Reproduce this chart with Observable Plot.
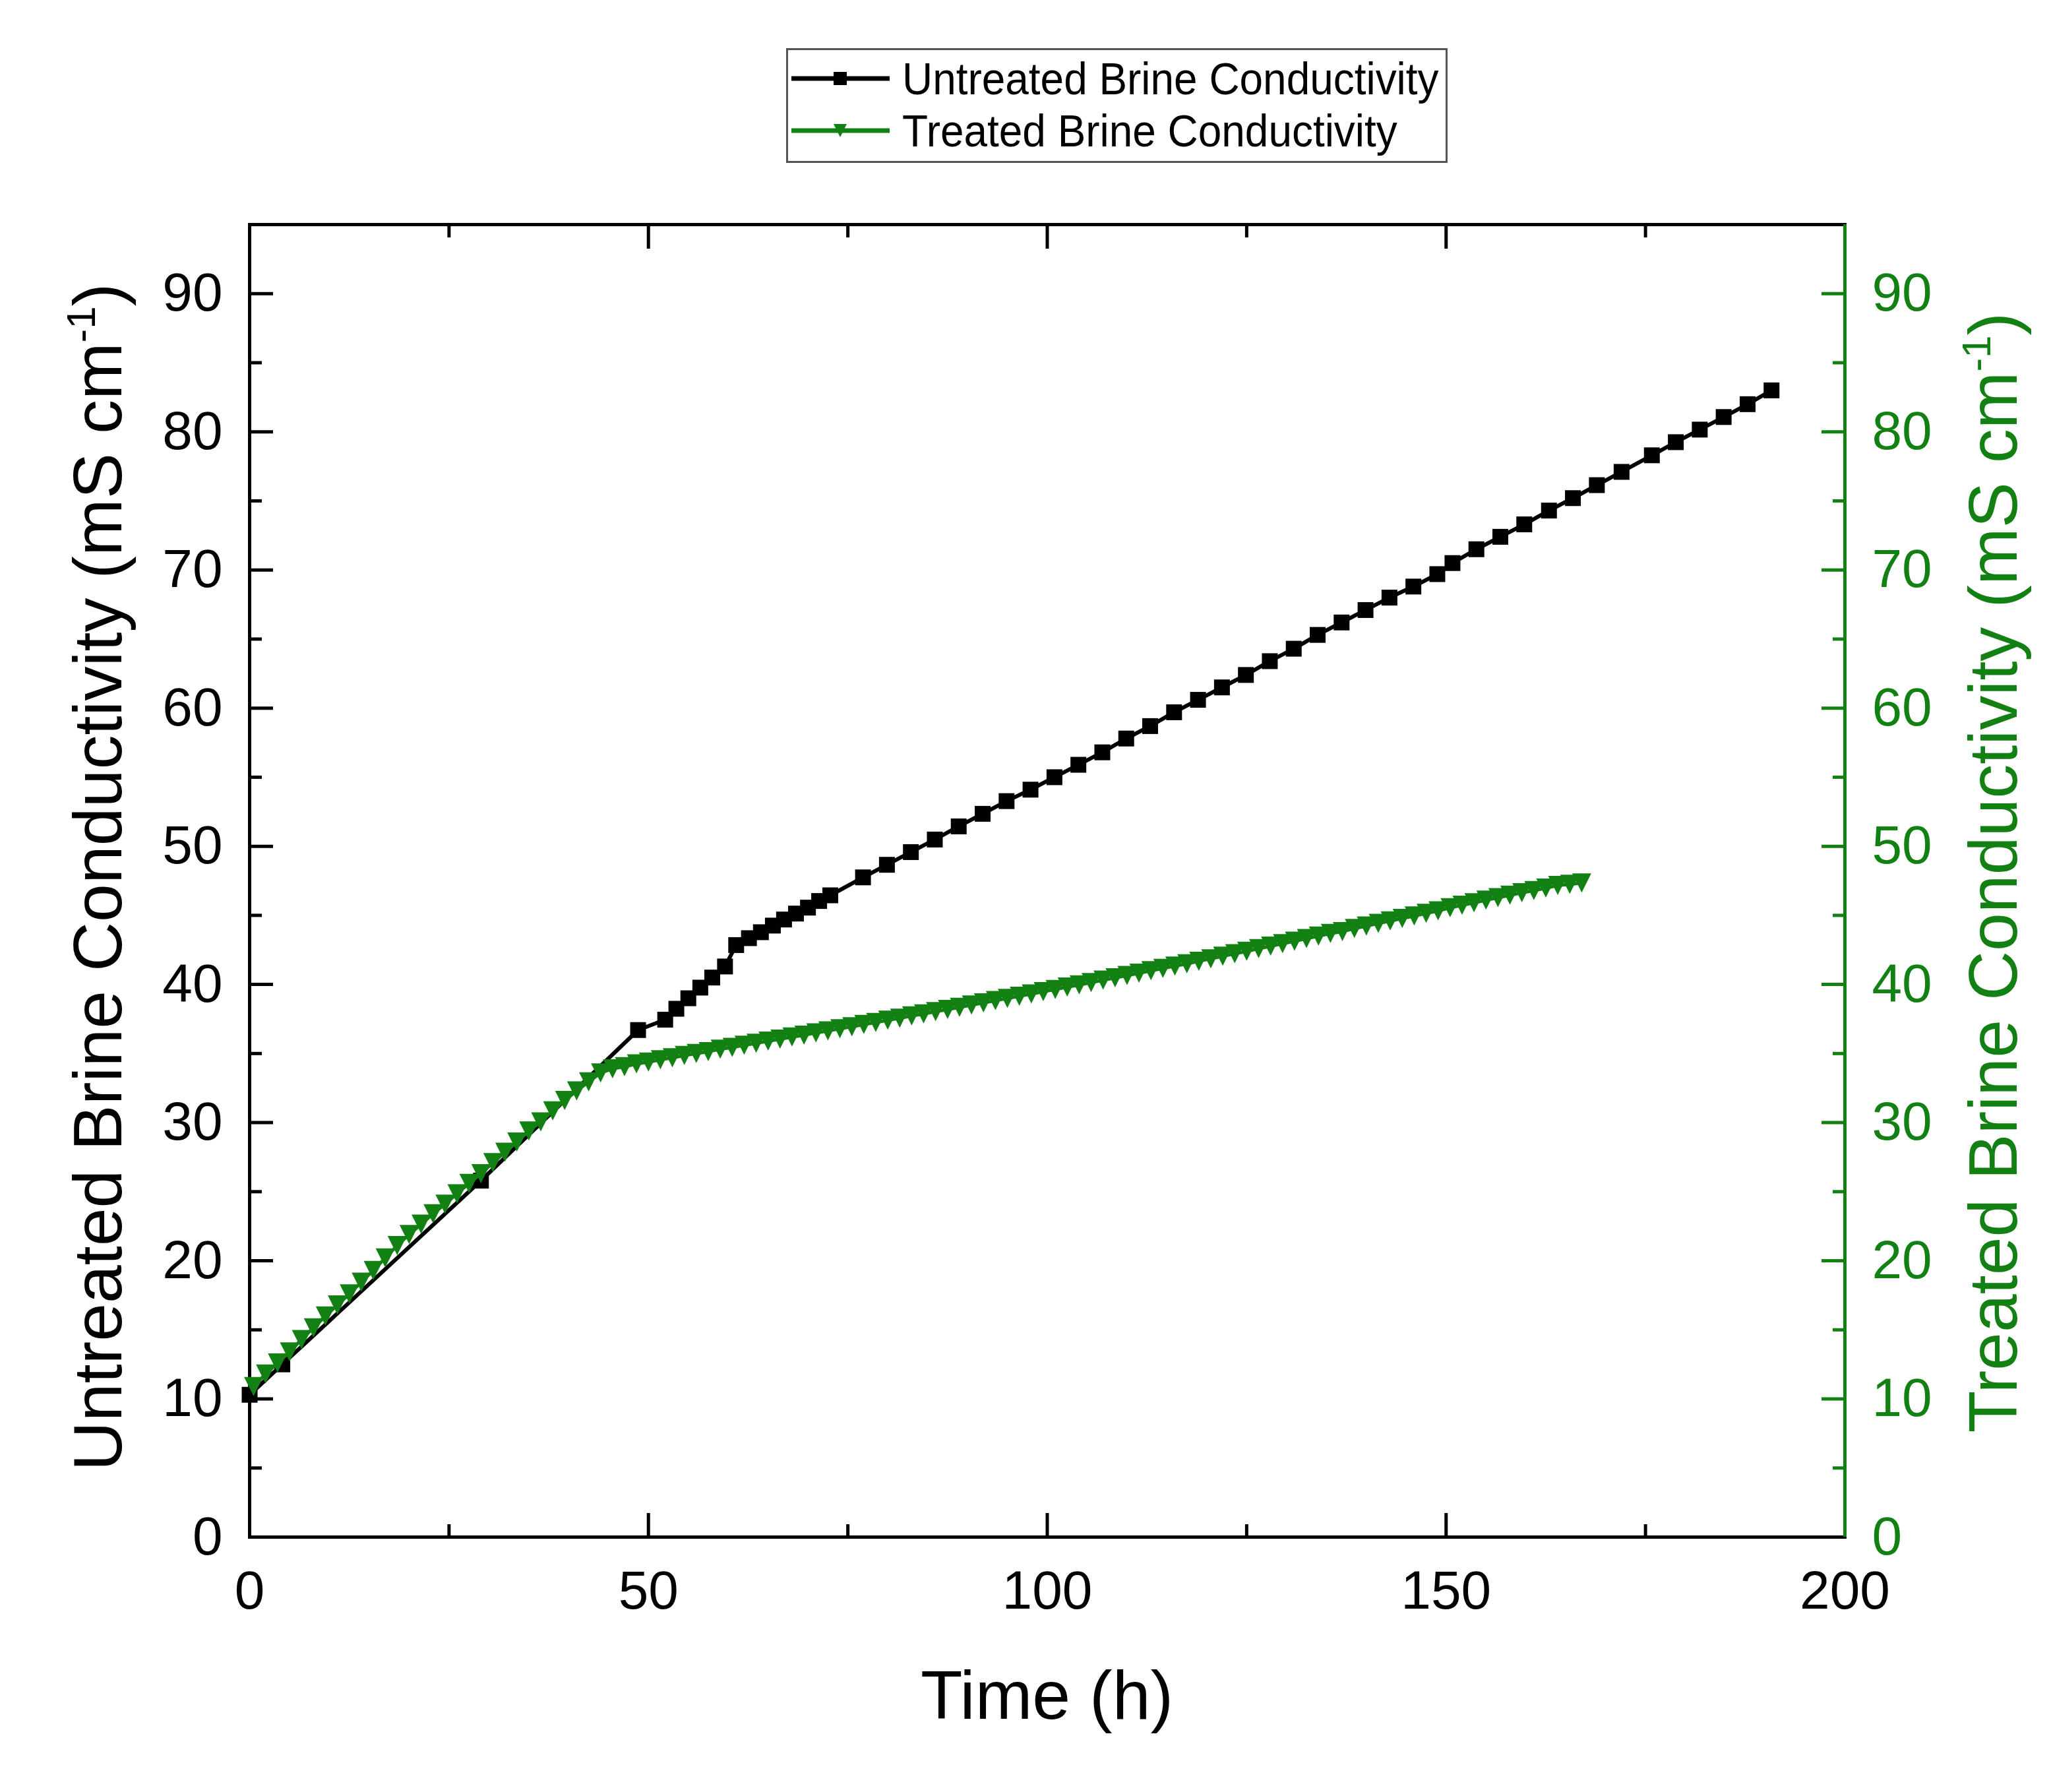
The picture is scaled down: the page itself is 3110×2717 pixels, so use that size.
<!DOCTYPE html>
<html><head><meta charset="utf-8">
<script src="https://cdn.jsdelivr.net/npm/d3@7"></script>
<script src="https://cdn.jsdelivr.net/npm/@observablehq/plot@0.6"></script>
<style>
html,body{margin:0;padding:0;background:#fff;}
#wrap{position:relative;width:3110px;height:2717px;overflow:hidden;background:#fff;}
#chart{position:absolute;left:0;top:0;}
#legend{position:absolute;left:1192px;top:73px;}
</style></head><body>
<div id="wrap"><div id="chart"></div><div id="legend"></div></div>
<script>
const GREEN = "#128012";
const FONT = "'Liberation Sans', Arial, sans-serif";

// Untreated brine conductivity (black squares)
const untreatedT = [0, 4.1, 29.0, 48.7, 52.1, 53.5, 55.0, 56.5, 58.0, 59.6, 61.0, 62.6, 64.1, 65.6, 67.0, 68.5, 70.0, 71.4, 72.8,
  76.9, 79.9, 82.9, 85.9, 88.9, 91.9, 94.9, 97.9, 100.9, 103.9, 106.9, 109.9, 112.9, 115.9, 118.9, 121.9, 124.9, 127.9,
  130.9, 133.9, 136.9, 139.9, 142.9, 145.9, 148.9, 150.8, 153.8, 156.8, 159.8, 162.9, 165.9, 168.9, 172.0, 175.8, 178.8,
  181.8, 184.8, 187.8, 190.8];
const untreatedV = [10.3, 12.5, 25.8, 36.7, 37.45, 38.24, 39.0, 39.77, 40.5, 41.3, 42.85, 43.35, 43.78, 44.26, 44.7, 45.13, 45.56, 46.04, 46.45,
  47.75, 48.66, 49.58, 50.49, 51.44, 52.35, 53.27, 54.1, 55.0, 55.9, 56.8, 57.8, 58.7, 59.7, 60.6, 61.5, 62.4, 63.4,
  64.3, 65.3, 66.2, 67.1, 68.0, 68.8, 69.7, 70.5, 71.5, 72.4, 73.3, 74.3, 75.2, 76.14, 77.1, 78.3, 79.25,
  80.16, 81.07, 82.0, 83.0];

// Treated brine conductivity (green down-triangles)
const treatedT = [0.5, 2, 3.5, 5, 6.5, 8, 9.5, 11, 12.5, 14, 15.5, 17, 18.5, 20, 21.5, 23, 24.5, 26, 27.5, 29, 30.5, 32,
  33.5, 35, 36.5, 38, 39.5, 41, 42.5, 44, 45.5, 47, 48.5, 50, 51.5, 53, 54.5, 56, 57.5, 59, 60.5, 62, 63.5, 65, 66.5, 68,
  69.5, 71, 72.5, 74, 75.5, 77, 78.5, 80, 81.5, 83, 84.5, 86, 87.5, 89, 90.5, 92, 93.5, 95, 96.5, 98, 99.5, 101, 102.5,
  104, 105.5, 107, 108.5, 110, 111.5, 113, 114.5, 116, 117.5, 119, 120.5, 122, 123.5, 125, 126.5, 128, 129.5, 131, 132.5,
  134, 135.5, 137, 138.5, 140, 141.5, 143, 144.5, 146, 147.5, 149, 150.5, 152, 153.5, 155, 156.5, 158, 159.5, 161, 162.5,
  164, 165.5, 167];
const treatedV = [10.9, 11.8, 12.6, 13.4, 14.3, 15.15, 16.0, 16.8, 17.6, 18.45, 19.3, 20.2, 21.1, 21.9, 22.65, 23.4, 24.1,
  24.85, 25.6, 26.3, 27.1, 27.85, 28.6, 29.4, 30.05, 30.85, 31.6, 32.3, 32.95, 33.6, 33.9, 34.05, 34.25,
  34.38, 34.55, 34.69, 34.86, 35.0, 35.14, 35.31, 35.45, 35.6, 35.74, 35.9, 36.04, 36.2, 36.33, 36.5, 36.64, 36.8, 36.94, 37.1,
  37.25, 37.41, 37.56, 37.72, 37.87, 38.03, 38.19, 38.35, 38.51, 38.67, 38.83, 38.99, 39.15, 39.31, 39.48, 39.64, 39.81,
  39.97, 40.14, 40.31, 40.48, 40.65, 40.82, 40.99, 41.16, 41.33, 41.5, 41.68, 41.86, 42.04, 42.22, 42.4,
  42.59, 42.77, 42.95, 43.13, 43.32, 43.5, 43.69, 43.83, 44.05, 44.23, 44.42, 44.6, 44.78, 44.96, 45.15, 45.33, 45.55,
  45.73, 45.91, 46.1, 46.28, 46.46, 46.64, 46.79, 46.97, 47.16, 47.25, 47.34];

const xMajorTicks = [0, 50, 100, 150, 200];
const xMinorTicks = [25, 75, 125, 175];
const yMajorTicks = [0, 10, 20, 30, 40, 50, 60, 70, 80, 90];
const yMinorTicks = [5, 15, 25, 35, 45, 55, 65, 75, 85];

const xTitle = "Time (h)";
const leftTitle = "Untreated Brine Conductivity (mS cm";
const rightTitle = "Treated Brine Conductivity (mS cm";
const unitSup = "-1";
const unitClose = ")";
const legendLabels = ["Untreated Brine Conductivity", "Treated Brine Conductivity"];
const legendColors = ["#000", GREEN];

const untreated = untreatedT.map((t, i) => ({t, v: untreatedV[i]}));
const treated = treatedT.map((t, i) => ({t, v: treatedV[i]}));

const squareSym = {draw(ctx, size) {const r = Math.sqrt(size / Math.PI);
  ctx.moveTo(-r, -r); ctx.lineTo(r, -r); ctx.lineTo(r, r); ctx.lineTo(-r, r); ctx.closePath();}};
const triDownSym = {draw(ctx, size) {const r = Math.sqrt(size / Math.PI);
  ctx.moveTo(-r, -r); ctx.lineTo(r, -r); ctx.lineTo(0, r); ctx.closePath();}};
const legendSyms = [squareSym, triDownSym];

const chart = Plot.plot({
  width: 3110, height: 2717,
  marginTop: 340, marginBottom: 387, marginLeft: 378, marginRight: 313,
  x: {domain: [0, 200], label: null},
  y: {domain: [0, 95], label: null},
  style: {fontFamily: FONT, fontSize: "82px", color: "#000", background: "#fff", overflow: "visible"},
  marks: [
    Plot.axisX({anchor: "bottom", ticks: xMajorTicks, tickSize: -36, tickPadding: 86, strokeWidth: 5, fontSize: 82, label: null}),
    Plot.axisX({anchor: "bottom", ticks: xMinorTicks, tickSize: -19, strokeWidth: 5, tickFormat: () => "", label: null}),
    Plot.axisX({anchor: "top", ticks: xMajorTicks, tickSize: -36, strokeWidth: 5, tickFormat: () => "", label: null}),
    Plot.axisX({anchor: "top", ticks: xMinorTicks, tickSize: -19, strokeWidth: 5, tickFormat: () => "", label: null}),
    Plot.axisY({anchor: "left", ticks: yMajorTicks, tickSize: -36, tickPadding: 77, strokeWidth: 5, fontSize: 82, label: null}),
    Plot.axisY({anchor: "left", ticks: yMinorTicks, tickSize: -19, strokeWidth: 5, tickFormat: () => "", label: null}),
    Plot.axisY({anchor: "right", ticks: yMajorTicks, tickSize: -36, tickPadding: 77, strokeWidth: 5, fontSize: 82, color: GREEN, label: null}),
    Plot.axisY({anchor: "right", ticks: yMinorTicks, tickSize: -19, strokeWidth: 5, tickFormat: () => "", color: GREEN, label: null}),
    Plot.frame({stroke: "#000", strokeWidth: 5}),
    Plot.ruleX([200], {stroke: GREEN, strokeWidth: 5}),
    Plot.line(untreated, {x: "t", y: "v", stroke: "#000", strokeWidth: 6}),
    Plot.dot(untreated, {x: "t", y: "v", symbol: squareSym, r: 12, fill: "#000"}),
    Plot.line(treated, {x: "t", y: "v", stroke: GREEN, strokeWidth: 5}),
    Plot.dot(treated, {x: "t", y: "v", symbol: triDownSym, r: 14.5, fill: GREEN})
  ]
});
document.getElementById("chart").appendChild(chart);

// Axis titles
const sx = chart.scale("x"), sy = chart.scale("y");
const xMid = (sx.range[0] + sx.range[1]) / 2;
const yMid = (sy.range[0] + sy.range[1]) / 2;
const svg = d3.select(chart);
svg.append("text").attr("x", xMid).attr("y", 2606).attr("text-anchor", "middle")
  .attr("font-family", FONT).attr("font-size", 104).attr("fill", "#000").text(xTitle);

function vTitle(x, y, main, color) {
  const t = svg.append("text").attr("transform", `translate(${x},${y}) rotate(-90)`)
    .attr("text-anchor", "middle").attr("font-family", FONT).attr("font-size", 104).attr("fill", color);
  t.append("tspan").text(main);
  t.append("tspan").attr("font-size", 62).attr("dy", -40).text(unitSup);
  t.append("tspan").attr("dy", 40).text(unitClose);
}
vTitle(184, yMid - 5, leftTitle, "#000");
vTitle(3058, yMid - 12, rightTitle, GREEN);

// Legend
const leg = d3.select("#legend").append("svg").attr("width", 1004).attr("height", 175);
leg.append("rect").attr("x", 1.5).attr("y", 1.5).attr("width", 1000).attr("height", 171)
  .attr("fill", "#fff").attr("stroke", "#555").attr("stroke-width", 3);
const rowY = [46, 125];
legendLabels.forEach((lab, i) => {
  const g = leg.append("g").attr("transform", `translate(0,${rowY[i]})`);
  g.append("line").attr("x1", 8).attr("x2", 157).attr("y1", 0).attr("y2", 0)
    .attr("stroke", legendColors[i]).attr("stroke-width", 7);
  g.append("path").attr("transform", "translate(82,0)")
    .attr("d", d3.symbol(legendSyms[i], Math.PI * 10 * 10)()).attr("fill", legendColors[i]);
  g.append("text").attr("transform", "translate(176,24) scale(0.94,1)")
    .attr("font-family", FONT).attr("font-size", 68).attr("fill", "#000").text(lab);
});
</script>
</body></html>
